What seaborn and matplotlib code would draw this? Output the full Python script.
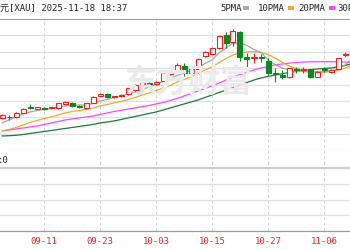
import numpy as np
import pandas as pd
import matplotlib
matplotlib.use("Agg")
import matplotlib.pyplot as plt
from matplotlib.patches import Rectangle
import seaborn as sns

# ---------------- data ----------------
dates = ["09-03", "09-04", "09-05", "09-08", "09-09", "09-10", "09-11", "09-12",
         "09-15", "09-16", "09-17", "09-18", "09-19", "09-22", "09-23", "09-24",
         "09-25", "09-26", "09-29", "09-30", "10-01", "10-02", "10-03", "10-06",
         "10-07", "10-08", "10-09", "10-10", "10-13", "10-14", "10-15", "10-16",
         "10-17", "10-20", "10-21", "10-22", "10-23", "10-24", "10-27", "10-28",
         "10-29", "10-30", "10-31", "11-03", "11-04", "11-05", "11-06", "11-07",
         "11-10", "11-11", "11-12"]
opens = [3495, 3508, 3505, 3548, 3600, 3590, 3597, 3592, 3592, 3640, 3648, 3610,
         3597, 3648, 3720, 3730, 3705, 3715, 3735, 3775, 3835, 3847, 3835, 3868,
         3935, 3958, 4020, 3950, 3985, 4120, 4135, 4192, 4325, 4258, 4358, 4108,
         4092, 4103, 4070, 3948, 3925, 3902, 3985, 3977, 3980, 3908, 3985, 3958,
         3982, 4125, 4095]
highs = [3540, 3525, 3555, 3595, 3635, 3610, 3605, 3610, 3650, 3665, 3660, 3625,
         3645, 3715, 3750, 3745, 3720, 3735, 3795, 3840, 3850, 3858, 3865, 3950,
         3965, 4042, 4042, 3995, 4095, 4170, 4200, 4330, 4358, 4382, 4370, 4142,
         4142, 4140, 4092, 3992, 3975, 4000, 4008, 4008, 3985, 3965, 4005, 3985,
         4100, 4155, 4195]
lows = [3485, 3475, 3495, 3545, 3582, 3585, 3580, 3585, 3585, 3630, 3605, 3595,
        3590, 3645, 3715, 3700, 3695, 3710, 3730, 3765, 3825, 3808, 3830, 3865,
        3925, 3955, 3915, 3942, 3982, 4105, 4125, 4185, 4192, 4215, 4070, 3992,
        4042, 4055, 3925, 3858, 3885, 3895, 3948, 3942, 3895, 3905, 3955, 3950,
        3975, 4105, 4085]
closes = [3525, 3501, 3545, 3588, 3592, 3602, 3587, 3602, 3642, 3652, 3612, 3602,
          3642, 3708, 3732, 3707, 3712, 3727, 3792, 3830, 3842, 3839, 3858, 3942,
          3955, 4020, 3950, 3985, 4090, 4155, 4192, 4315, 4242, 4360, 4110, 4082,
          4102, 4095, 3950, 3932, 3902, 3990, 3977, 3985, 3902, 3958, 3977, 3973,
          4092, 4135, 4175]
ma5 = [3445, 3475, 3505, 3535, 3555, 3570, 3580, 3590, 3605, 3615, 3620, 3625,
       3625, 3640, 3665, 3680, 3700, 3715, 3735, 3755, 3780, 3805, 3835, 3860,
       3885, 3920, 3945, 3970, 4000, 4040, 4075, 4145, 4195, 4245, 4245, 4220,
       4180, 4150, 4075, 4030, 3995, 3975, 3960, 3960, 3955, 3960, 3960, 3965,
       3985, 4025, 4085]
ma10 = [3365, 3380, 3400, 3425, 3450, 3470, 3490, 3505, 3525, 3545, 3560, 3570,
        3580, 3595, 3615, 3630, 3645, 3660, 3680, 3700, 3725, 3745, 3770, 3795,
        3820, 3855, 3880, 3905, 3940, 3975, 4005, 4050, 4090, 4125, 4145, 4155,
        4160, 4150, 4130, 4095, 4055, 4015, 3990, 3975, 3965, 3955, 3952, 3960,
        3975, 3995, 4025]
ma20 = [3365, 3375, 3385, 3395, 3405, 3415, 3430, 3445, 3460, 3475, 3485, 3495,
        3505, 3515, 3530, 3545, 3560, 3570, 3585, 3595, 3610, 3620, 3635, 3650,
        3670, 3690, 3715, 3740, 3765, 3790, 3815, 3845, 3875, 3905, 3930, 3955,
        3975, 3995, 4010, 4025, 4035, 4043, 4050, 4055, 4057, 4058, 4058, 4058,
        4057, 4055, 4055]
ma30 = [3315, 3318, 3322, 3330, 3340, 3350, 3360, 3370, 3380, 3390, 3400, 3410,
        3420, 3430, 3445, 3455, 3465, 3480, 3495, 3510, 3525, 3540, 3555, 3575,
        3595, 3615, 3635, 3655, 3675, 3700, 3725, 3750, 3775, 3800, 3825, 3850,
        3875, 3895, 3910, 3925, 3937, 3950, 3960, 3970, 3977, 3985, 3990, 3995,
        4005, 4020, 4040]
tick_labels = ["09-11", "09-23", "10-03", "10-15", "10-27", "11-06"]
header_text = "元[XAU] 2025-11-18 18:37"
legend_labels = ["5PMA", "10PMA", "20PMA", "30PMA"]
sub_label = ":0"
watermark = "东方财富"

# ---------------- style ----------------
sns.set_theme(style="white")
plt.rcParams["font.family"] = ["DejaVu Sans Mono", "Noto Sans CJK SC"]

RED = "#ff1a1a"
GREEN = "#0a8a1e"
MA_COLORS = ["#a8a8a8", "#f2a82a", "#ff44ff", "#1e7a3c"]
GRID = "#e0e0e0"
VGRID = "#d4d4d4"
FS = 6.5

W, H = 350, 250
fig = plt.figure(figsize=(W / 100, H / 100), dpi=100)
fig.patch.set_facecolor("white")


def fy(py):
    return 1 - py / H


idx = np.arange(len(dates))
x_lo, x_hi = -2 / 7, 348 / 7
tick_pos = [dates.index(t) for t in tick_labels]

# background axes: dashed vertical grid spanning both panels + watermark
axbg = fig.add_axes([0, fy(231), 1, (231 - 19) / H])
axbg.set_xlim(x_lo, x_hi)
axbg.set_ylim(0, 1)
axbg.axis("off")
for p in tick_pos:
    axbg.axvline(p, color=VGRID, lw=0.8, ls=(0, (3, 2)), zorder=0)
fig.text(188 / W, fy(84), watermark, fontsize=23, color="#eaeaea",
         family=["Noto Sans CJK SC"], fontweight="bold",
         ha="center", va="center", zorder=0)

# main price panel
ax = fig.add_axes([0, fy(150), 1, (150 - 19) / H])
ax.patch.set_alpha(0)
y_lo, y_hi = 3175, 4485
ax.set_ylim(y_lo, y_hi)
ax.set_xlim(x_lo, x_hi)
for gy in np.linspace(y_lo, y_hi, 9)[:-1]:
    ax.axhline(gy, color=GRID, lw=0.9, zorder=0)
ax.axhline(y_hi, color="#a5a5a5", lw=0.9, zorder=1, clip_on=False)
for s in ax.spines.values():
    s.set_visible(False)

# moving averages via seaborn
df = pd.DataFrame({"i": idx, "ma5": ma5, "ma10": ma10, "ma20": ma20, "ma30": ma30})
for col, c in zip(["ma30", "ma20", "ma10", "ma5"], MA_COLORS[::-1]):
    sns.lineplot(data=df, x="i", y=col, ax=ax, color=c, lw=0.9, zorder=2,
                 legend=False)
ax.set_xlabel("")
ax.set_ylabel("")
ax.set_xlim(x_lo, x_hi)

# candlesticks
bw = 5 / 7
for i, (o, h, l, c) in enumerate(zip(opens, highs, lows, closes)):
    up = c >= o
    col = RED if up else GREEN
    ax.vlines(i, l, h, color=col, lw=0.8, zorder=3)
    bottom = min(o, c)
    height = max(abs(c - o), 1.0)
    ax.bar(i, height, bottom=bottom, width=bw,
           facecolor="white" if up else col, edgecolor=col, lw=0.8, zorder=4)
ax.set_xticks([])
ax.set_yticks([])

# lower (empty) panel
ax2 = fig.add_axes([0, fy(231), 1, (231 - 168) / H])
ax2.patch.set_alpha(0)
ax2.set_ylim(0, 1)
ax2.set_xlim(x_lo, x_hi)
for gy in [0.25, 0.5, 0.75]:
    ax2.axhline(gy, color=GRID, lw=0.9, zorder=0)
ax2.axhline(1, color="#cdcdcd", lw=1.6, zorder=1, clip_on=False)
for s in ax2.spines.values():
    s.set_visible(False)
ax2.spines["bottom"].set_visible(True)
ax2.spines["bottom"].set_color("#9a9a9a")
ax2.spines["bottom"].set_linewidth(0.9)
ax2.set_yticks([])
ax2.set_xticks(tick_pos)
ax2.set_xticklabels(tick_labels, color=RED, fontsize=FS)
ax2.tick_params(axis="x", length=0, pad=4.2)

# header, legend and sub-panel label
fig.text(0.5 / W, fy(8.5), header_text, fontsize=FS, color="#222222",
         ha="left", va="center")
leg_x = [220, 257.5, 298, 337]
mark_x = [243, 288, 329]
for lab, lx in zip(legend_labels, leg_x):
    fig.text(lx / W, fy(8.5), lab, fontsize=FS, color="#222222",
             ha="left", va="center")
for mx, c in zip(mark_x, MA_COLORS[:3]):
    fig.patches.append(Rectangle((mx / W, fy(9.5)), 5.5 / W, 3 / H,
                                 transform=fig.transFigure, facecolor=c,
                                 edgecolor="none"))
fig.text(8.5 / W, fy(160.5), sub_label, fontsize=FS, color="#222222",
         ha="right", va="center")

fig.savefig("out.png", dpi=100)
